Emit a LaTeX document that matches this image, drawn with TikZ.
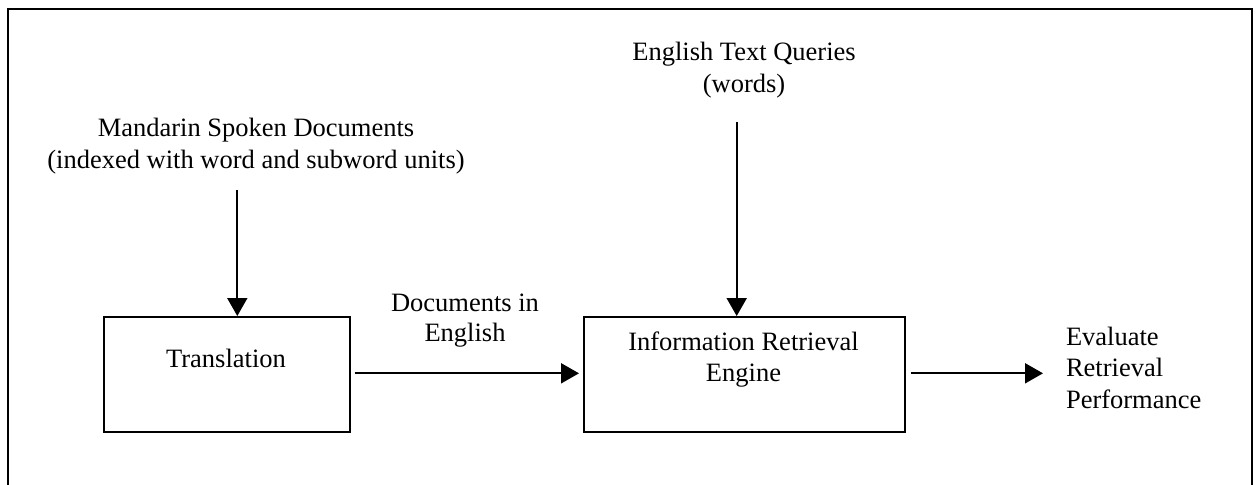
\documentclass[tikz,border=0pt]{standalone}
\usepackage{fontspec}
\setmainfont{Liberation Serif}
\usetikzlibrary{arrows.meta}
\begin{document}
\begin{tikzpicture}[x=0.5pt, y=-0.5pt, line width=1pt,
		every node/.style = {font=\fontsize{13.25}{15.8}\selectfont},
		block/.style = {draw, rectangle, inner sep=0pt, anchor=north west},
		txt/.style = {align=center, inner sep=0pt},
		flow/.style = {-{Triangle[length=9pt, width=10pt]}}]

	\useasboundingbox (0,0) rectangle (1257,484);
	\clip (0,0) rectangle (1257,484);

	% Frame
	\draw (7.5,8.5) rectangle (1251.5,520);

	% Boxes
	\node[block, minimum width=123pt, minimum height=57.5pt] (trans) at (103,316) {};
	\node[block, minimum width=160.5pt, minimum height=57.5pt] (ire) at (583,316) {};

	% Box texts
	\node[txt, anchor=base] (transtext) at (226,367) {Translation};
	\node[txt, anchor=base] (iretext) at (743.5,350) {Information Retrieval};
	\node[txt, anchor=base] (iretext2) at (743.5,381.5) {Engine};

	% Inputs
	\node[txt, anchor=base] (mandarin) at (256,136.7) {Mandarin Spoken Documents};
	\node[txt, anchor=base] (mandarin2) at (256,168.3) {(indexed with word and subword units)};
	\node[txt, anchor=base] (queries) at (744,60) {English Text Queries};
	\node[txt, anchor=base] (queries2) at (744,92.5) {(words)};

	% Arrow labels
	\node[txt, anchor=base] (docs) at (465,311) {Documents in};
	\node[txt, anchor=base] (docs2) at (465,341) {English};
	\node[txt, anchor=base west] (eval) at (1065,345) {Evaluate};
	\node[txt, anchor=base west] (eval2) at (1065,376.7) {Retrieval};
	\node[txt, anchor=base west] (eval3) at (1065,408) {Performance};

	% Arrows
	\coordinate (mandarinout) at (237.3,190);
	\coordinate (queriesout) at (736.7,122);
	\coordinate (evalin) at (1043,373.3);
	\draw[flow] (mandarinout) -- (mandarinout |- trans.north);
	\draw[flow] (queriesout) -- (queriesout |- ire.north);
	\draw[flow, shorten <=3.5pt/2, shorten >=4pt/2] (trans.east |- evalin) -- (ire.west |- evalin);
	\draw[flow, shorten <=5pt/2] (ire.east |- evalin) -- (evalin);

\end{tikzpicture}
\end{document}
